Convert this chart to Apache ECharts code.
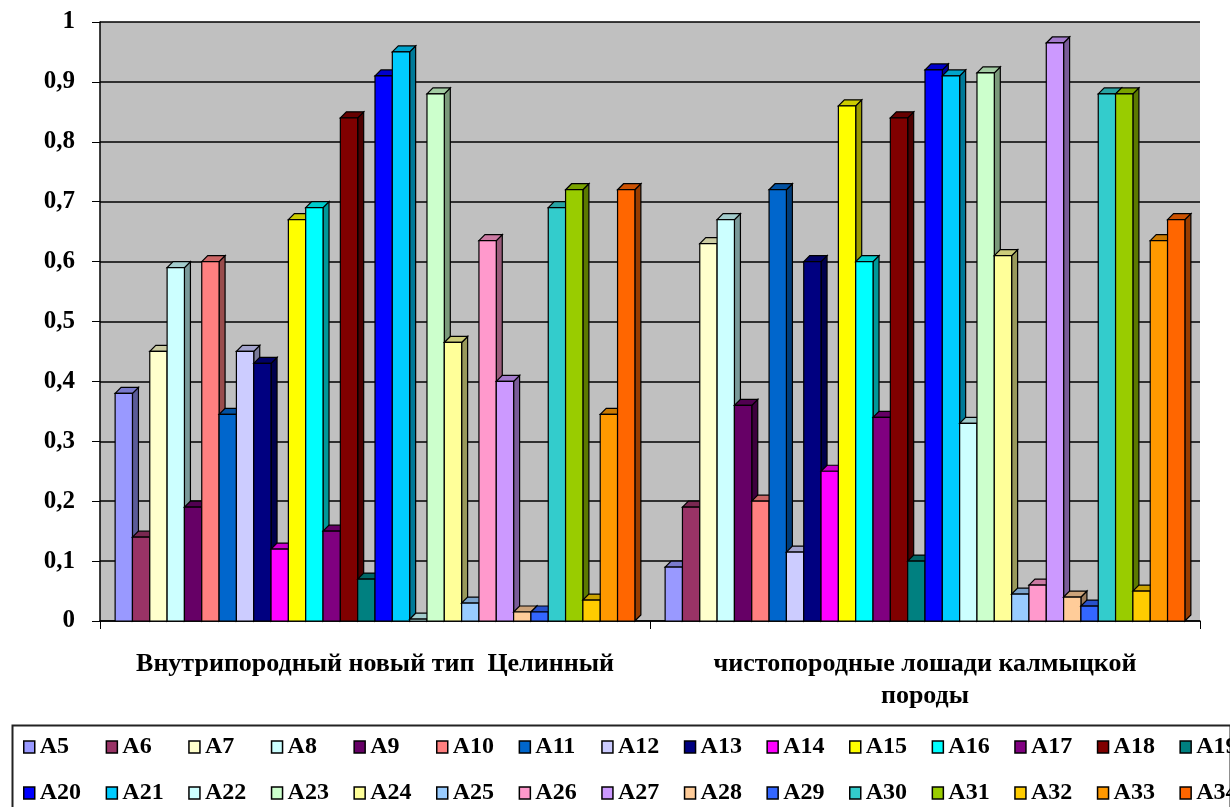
<!DOCTYPE html>
<html>
<head>
<meta charset="utf-8">
<script src="https://cdn.jsdelivr.net/npm/echarts@6/dist/echarts.min.js"></script>
<style>
  html, body { margin: 0; padding: 0; background: #fff; }
  #chart { width: 1230px; height: 807px; }
</style>
</head>
<body>
<div id="chart"></div>
<script>
// категории
var categories = ['Внутрипородный новый тип  Целинный', 'чистопородные лошади калмыцкой\nпороды'];
var seriesNames = ['A5', 'A6', 'A7', 'A8', 'A9', 'A10', 'A11', 'A12', 'A13', 'A14', 'A15', 'A16', 'A17', 'A18', 'A19',
  'A20', 'A21', 'A22', 'A23', 'A24', 'A25', 'A26', 'A27', 'A28', 'A29', 'A30', 'A31', 'A32', 'A33', 'A34'];
// значения для первой и второй группы
var valuesCelinny = [0.38, 0.14, 0.45, 0.59, 0.19, 0.60, 0.345, 0.45, 0.43, 0.12, 0.67, 0.69, 0.15, 0.84, 0.07,
  0.91, 0.95, 0.003, 0.88, 0.465, 0.03, 0.635, 0.40, 0.015, 0.015, 0.69, 0.72, 0.035, 0.345, 0.72];
var valuesKalmyk = [0.09, 0.19, 0.63, 0.67, 0.36, 0.20, 0.72, 0.115, 0.60, 0.25, 0.86, 0.60, 0.34, 0.84, 0.10,
  0.92, 0.91, 0.33, 0.915, 0.61, 0.045, 0.06, 0.965, 0.04, 0.025, 0.88, 0.88, 0.05, 0.635, 0.67];
var yTicks = [0, 0.1, 0.2, 0.3, 0.4, 0.5, 0.6, 0.7, 0.8, 0.9, 1];

var colors = ['#9999FF', '#993366', '#FFFFCC', '#CCFFFF', '#660066', '#FF8080', '#0066CC', '#CCCCFF', '#000080', '#FF00FF',
  '#FFFF00', '#00FFFF', '#800080', '#800000', '#008080', '#0000FF', '#00CCFF', '#CCFFFF', '#CCFFCC', '#FFFF99',
  '#99CCFF', '#FF99CC', '#CC99FF', '#FFCC99', '#3366FF', '#33CCCC', '#99CC00', '#FFCC00', '#FF9900', '#FF6600'];

var font = '"Liberation Serif", "Times New Roman", serif';
var n = seriesNames.length;
var depth = 6;

function darken(c, k) {
  var a = echarts.color.parse(c);
  return echarts.color.stringify([a[0] * k | 0, a[1] * k | 0, a[2] * k | 0, 1], 'rgba');
}

function make3dBar(idx) {
  return function (params, api) {
    var cat = api.value(0);
    var val = api.value(1);
    var base = api.coord([cat, 0]);
    var top = api.coord([cat, val]);
    var band = api.size([1, 0])[0];
    var groupW = band * 0.945;
    var bw = groupW / n;
    var x0 = base[0] - groupW / 2 + idx * bw;
    var x1 = x0 + bw;
    var c = colors[idx];
    var line = { stroke: '#000', lineWidth: 1.2 };
    return {
      type: 'group',
      children: [
        {
          type: 'polygon',
          shape: { points: [[x1, top[1]], [x1 + depth, top[1] - depth], [x1 + depth, base[1] - depth], [x1, base[1]]] },
          style: Object.assign({ fill: darken(c, 0.6) }, line)
        },
        {
          type: 'polygon',
          shape: { points: [[x0, top[1]], [x0 + depth, top[1] - depth], [x1 + depth, top[1] - depth], [x1, top[1]]] },
          style: Object.assign({ fill: darken(c, 0.8) }, line)
        },
        {
          type: 'rect',
          shape: { x: x0, y: top[1], width: bw, height: base[1] - top[1] },
          style: Object.assign({ fill: c }, line)
        }
      ]
    };
  };
}

var series = seriesNames.map(function (name, i) {
  return {
    name: name,
    type: 'custom',
    renderItem: make3dBar(i),
    itemStyle: { color: colors[i] },
    data: [[0, valuesCelinny[i]], [1, valuesKalmyk[i]]]
  };
});

// легенда: 15 колонок по два элемента
var legends = [];
for (var col = 0; col < 15; col++) {
  legends.push({
    left: 23 + col * 82.6,
    top: 734,
    orient: 'vertical',
    icon: 'rect',
    itemWidth: 11,
    itemHeight: 12,
    itemGap: 20,
    padding: 0,
    itemStyle: { borderColor: '#000', borderWidth: 1.5 },
    textStyle: { fontFamily: font, fontWeight: 'bold', fontSize: 24, lineHeight: 26, color: '#000' },
    selectedMode: false,
    data: [seriesNames[col], seriesNames[col + 15]]
  });
}

var chart = echarts.init(document.getElementById('chart'));
chart.setOption({
  backgroundColor: '#fff',
  animation: false,
  grid: {
    left: 100,
    right: 30,
    top: 22,
    bottom: 186,
    show: true,
    backgroundColor: '#c0c0c0',
    borderWidth: 0
  },
  graphic: [{
    type: 'rect',
    left: 10,
    top: 723,
    shape: { width: 1218, height: 120 },
    style: { fill: 'none', stroke: '#222', lineWidth: 2 },
    z: 0
  }],
  legend: legends,
  xAxis: {
    type: 'category',
    data: categories,
    axisLine: { lineStyle: { color: '#000', width: 1.5 } },
    axisTick: { show: true, alignWithLabel: false, length: 8, lineStyle: { color: '#000' } },
    axisLabel: {
      interval: 0,
      margin: 27,
      fontFamily: font,
      fontWeight: 'bold',
      fontSize: 26,
      color: '#000',
      lineHeight: 32
    },
    splitLine: { show: false }
  },
  yAxis: {
    type: 'value',
    min: yTicks[0],
    max: yTicks[yTicks.length - 1],
    interval: 0.1,
    axisLine: { show: true, lineStyle: { color: '#000', width: 1.5 } },
    axisTick: { show: true, length: 8, lineStyle: { color: '#000' } },
    axisLabel: {
      margin: 25,
      fontFamily: font,
      fontWeight: 'bold',
      fontSize: 25,
      color: '#000',
      formatter: function (v) { return String(Math.round(v * 10) / 10).replace('.', ','); }
    },
    splitLine: { show: true, lineStyle: { color: '#000', width: 1.5 } }
  },
  series: series
});
</script>
</body>
</html>
